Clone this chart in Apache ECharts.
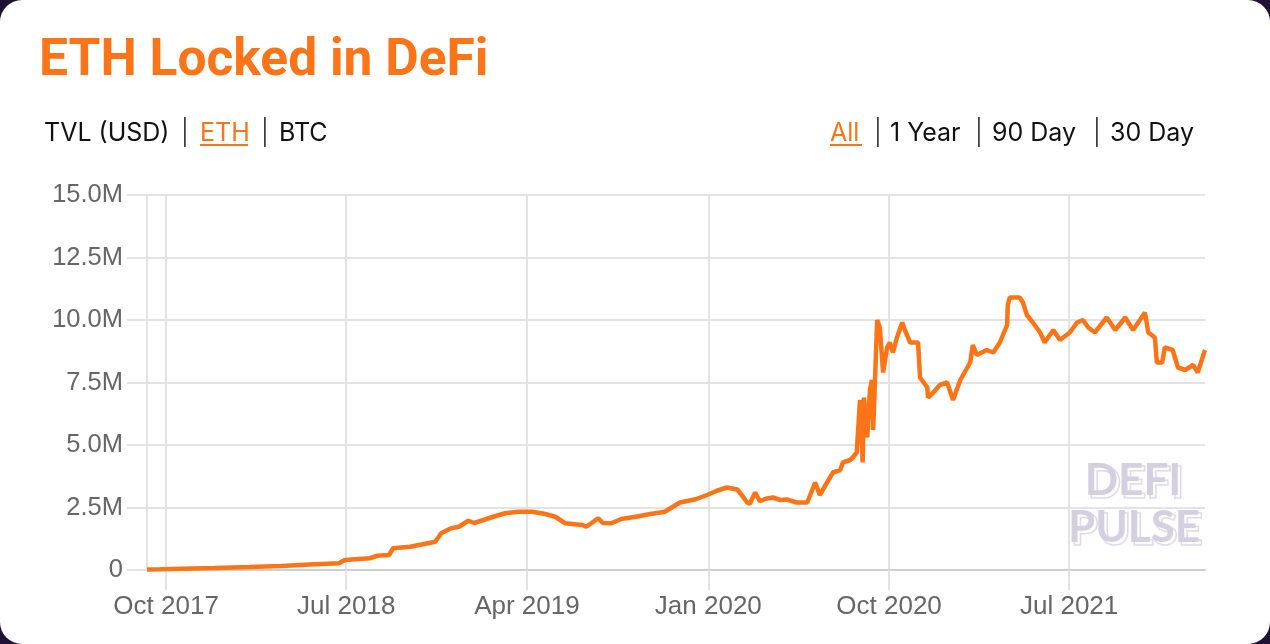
<!DOCTYPE html>
<html>
<head>
<meta charset="utf-8">
<script src="https://cdn.jsdelivr.net/npm/echarts@6/dist/echarts.min.js"></script>
<style>
  html, body { margin: 0; padding: 0; background: #1f1236; }
  #chart { width: 1270px; height: 644px; background: #ffffff; border-radius: 22px; overflow: hidden; }
</style>
</head>
<body>
<div id="chart"></div>
<script>
// ETH locked in DeFi (millions of ETH)
const dates = ['2017-09-02','2017-09-22','2017-12-14','2018-02-05','2018-03-24','2018-05-07','2018-06-20','2018-06-29','2018-08-06','2018-08-17',
'2018-09-04','2018-09-10','2018-10-06','2018-11-13','2018-11-22','2018-12-07','2018-12-19','2019-01-02','2019-01-11','2019-02-09',
'2019-02-27','2019-03-19','2019-04-09','2019-04-29','2019-05-14','2019-05-29','2019-06-24','2019-06-30','2019-07-18','2019-07-25',
'2019-08-07','2019-08-22','2019-09-13','2019-10-05','2019-10-20','2019-10-27','2019-11-19','2019-12-13','2019-12-30','2020-01-14',
'2020-01-29','2020-02-14','2020-02-24','2020-02-29','2020-03-04','2020-03-12','2020-03-19','2020-03-28','2020-04-08','2020-04-19',
'2020-04-29','2020-05-14','2020-05-30','2020-06-11','2020-06-18','2020-06-29','2020-07-08','2020-07-19','2020-07-23','2020-08-03',
'2020-08-07','2020-08-13','2020-08-18','2020-08-22','2020-08-24','2020-08-29','2020-09-02','2020-09-05','2020-09-07','2020-09-13',
'2020-09-17','2020-09-22','2020-09-28','2020-10-02','2020-10-07','2020-10-13','2020-10-21','2020-10-25','2020-11-02','2020-11-09',
'2020-11-14','2020-11-17','2020-11-28','2020-11-29','2020-12-07','2020-12-17','2020-12-28','2021-01-06','2021-01-17','2021-02-01',
'2021-02-05','2021-02-11','2021-02-26','2021-03-08','2021-03-18','2021-03-29','2021-03-30','2021-04-02','2021-04-17','2021-04-22',
'2021-04-28','2021-05-07','2021-05-18','2021-05-25','2021-06-07','2021-06-17','2021-07-02','2021-07-13','2021-07-22','2021-07-30',
'2021-08-09','2021-08-27','2021-09-09','2021-09-24','2021-10-06','2021-10-24','2021-10-29','2021-11-08','2021-11-11','2021-11-19',
'2021-11-23','2021-12-05','2021-12-13','2021-12-24','2022-01-05','2022-01-12','2022-01-23'];

const ethLocked = [0.02,0.03,0.08,0.12,0.16,0.22,0.27,0.40,0.47,0.57,
0.60,0.87,0.93,1.13,1.47,1.67,1.73,1.97,1.88,2.13,
2.27,2.33,2.33,2.24,2.13,1.87,1.80,1.73,2.07,1.88,
1.87,2.04,2.13,2.24,2.30,2.33,2.70,2.83,3.00,3.17,
3.30,3.22,2.88,2.70,2.65,3.10,2.75,2.85,2.90,2.80,
2.82,2.70,2.70,3.50,3.00,3.50,3.90,4.00,4.30,4.40,
4.50,4.70,6.80,4.30,6.90,5.30,7.20,7.60,5.60,10.0,
9.70,7.90,8.90,9.10,8.70,9.30,9.90,9.60,9.10,9.10,
9.10,7.70,7.30,6.90,7.10,7.40,7.50,6.80,7.60,8.30,
9.00,8.60,8.80,8.70,9.10,9.80,10.6,10.9,10.9,10.7,
10.2,9.90,9.50,9.10,9.60,9.20,9.50,9.90,10.0,9.70,
9.50,10.1,9.60,10.1,9.60,10.3,9.50,9.30,8.30,8.30,
8.90,8.80,8.10,8.00,8.20,7.90,8.80];

const xTickDates = ['2017-10-01','2018-07-01','2019-04-01','2020-01-01','2020-10-01','2021-07-01'];
const xTickLabels = ['Oct 2017','Jul 2018','Apr 2019','Jan 2020','Oct 2020','Jul 2021'];
const yTicks = [0, 2.5, 5, 7.5, 10, 12.5, 15];
const yTickLabels = ['0','2.5M','5.0M','7.5M','10.0M','12.5M','15.0M'];

const xStart = '2017-09-02';
const xEnd = '2022-01-23';

function ts(s) { return Date.UTC(+s.slice(0, 4), +s.slice(5, 7) - 1, +s.slice(8, 10)); }
const xTickTs = xTickDates.map(ts);
const labelByTs = {};
xTickTs.forEach((t, i) => { labelByTs[t] = xTickLabels[i]; });

const ORANGE = '#fb7518';
const GRID = '#e3e3e3';

const chart = echarts.init(document.getElementById('chart'), null, { renderer: 'canvas' });

const linkFont = '25px "Inter", "Noto Sans", sans-serif';
const sepFont = '300 25px "Inter", "Noto Sans", sans-serif';
function linkText(text, x, color) {
  return { type: 'text', style: { text: text, x: x, y: 133, font: linkFont, fill: color, textVerticalAlign: 'middle' }, silent: true };
}
function sep(x) {
  return { type: 'text', style: { text: '|', x: x, y: 133, font: sepFont, fill: '#111111', textVerticalAlign: 'middle' }, silent: true };
}

const wmFont = 'bold 44px "Lato", "Open Sans", sans-serif';

chart.setOption({
  animation: false,
  grid: { left: 147, right: 65, top: 195, bottom: 74 },
  xAxis: {
    type: 'value',
    min: ts(xStart),
    max: ts(xEnd),
    axisLine: { show: true, lineStyle: { color: '#cfcfcf', width: 2 } },
    axisTick: { show: true, length: 20, customValues: xTickTs, lineStyle: { color: GRID, width: 2 } },
    axisLabel: {
      customValues: xTickTs,
      formatter: v => labelByTs[v] || '',
      color: '#666666',
      fontSize: 26,
      fontFamily: '"Liberation Sans", Arial, sans-serif',
      margin: 24
    },
    splitLine: { show: true, lineStyle: { color: GRID, width: 2 } }
  },
  yAxis: {
    type: 'value',
    min: 0,
    max: 15,
    interval: 2.5,
    axisLine: { show: true, lineStyle: { color: GRID, width: 2 } },
    axisTick: { show: true, length: 20, lineStyle: { color: GRID, width: 2 } },
    axisLabel: {
      formatter: v => { const i = yTicks.indexOf(v); return i >= 0 ? yTickLabels[i] : ''; },
      color: '#666666',
      fontSize: 25.5,
      fontFamily: '"Liberation Sans", Arial, sans-serif',
      margin: 24
    },
    splitLine: { show: true, lineStyle: { color: GRID, width: 2 } }
  },
  graphic: [
    { type: 'text', style: { text: 'ETH Locked in DeFi', x: 39, y: 62, font: 'bold 51.5px "Roboto", "Noto Sans", sans-serif', fill: ORANGE, textVerticalAlign: 'middle' }, silent: true },
    linkText('TVL (USD)', 44, '#111111'),
    sep(181),
    linkText('ETH', 200, ORANGE),
    { type: 'rect', shape: { x: 200, y: 144, width: 48, height: 2 }, style: { fill: ORANGE }, silent: true },
    sep(261),
    linkText('BTC', 279, '#111111'),
    linkText('All', 830, ORANGE),
    { type: 'rect', shape: { x: 830, y: 144, width: 32, height: 2 }, style: { fill: ORANGE }, silent: true },
    sep(874),
    linkText('1 Year', 890, '#111111'),
    sep(975),
    linkText('90 Day', 992, '#111111'),
    sep(1093),
    linkText('30 Day', 1110, '#111111'),
    { type: 'text', z: 1, style: { text: 'DEFI', x: 1136, y: 484, font: wmFont, fill: 'rgba(255,255,255,0)', stroke: '#dedae8', lineWidth: 1.5, textAlign: 'center', textVerticalAlign: 'middle' }, silent: true },
    { type: 'text', z: 2, style: { text: 'DEFI', x: 1133, y: 481, font: wmFont, fill: '#d5d0df', textAlign: 'center', textVerticalAlign: 'middle' }, silent: true },
    { type: 'text', z: 1, style: { text: 'PULSE', x: 1137, y: 531, font: wmFont, fill: 'rgba(255,255,255,0)', stroke: '#dedae8', lineWidth: 1.5, textAlign: 'center', textVerticalAlign: 'middle' }, silent: true },
    { type: 'text', z: 2, style: { text: 'PULSE', x: 1134, y: 528, font: wmFont, fill: '#d5d0df', textAlign: 'center', textVerticalAlign: 'middle' }, silent: true }
  ],
  series: [{
    type: 'line',
    data: dates.map((d, i) => [ts(d), ethLocked[i]]),
    showSymbol: false,
    z: 5,
    lineStyle: { color: ORANGE, width: 4.5 },
    itemStyle: { color: ORANGE }
  }]
});
</script>
</body>
</html>
